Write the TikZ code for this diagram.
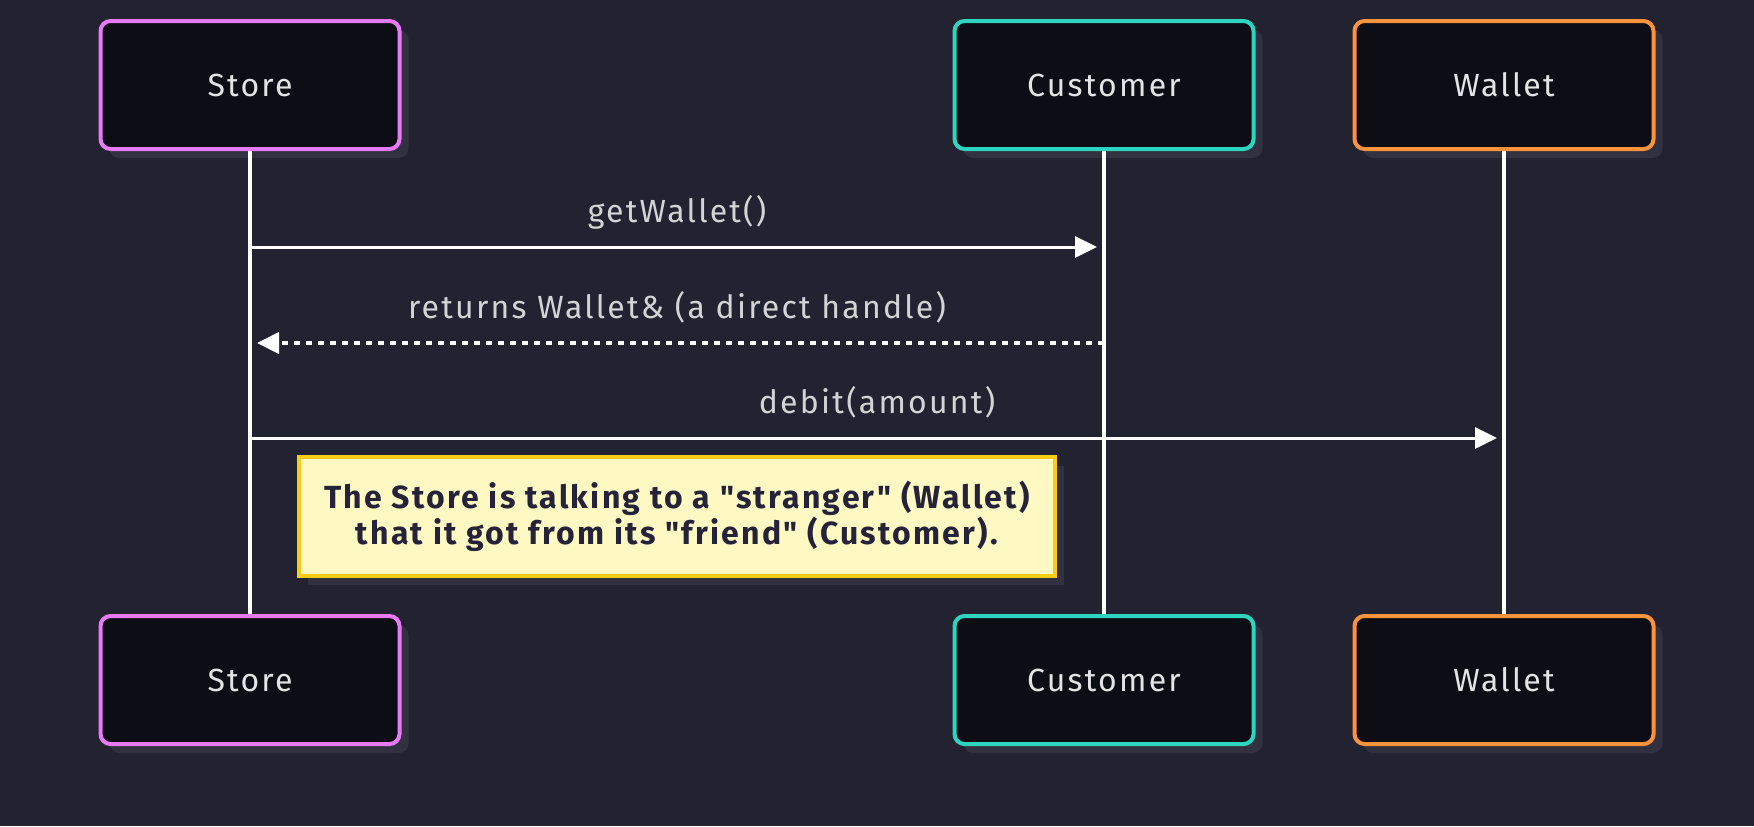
\documentclass[tikz,border=0pt]{standalone}
\usepackage{fontspec}
\setmainfont{Fira Sans}[LetterSpace=7, Ligatures=TeXOff]
\usetikzlibrary{
calc,
positioning,
arrows.meta,
shadows,
}
\definecolor{bgcol}{HTML}{232230}
\definecolor{boxfill}{HTML}{0D0D15}
\definecolor{shadowcol}{HTML}{32313F}
\definecolor{boxtext}{HTML}{E4E4E7}
\definecolor{msgtext}{HTML}{D4D4D8}
\definecolor{storecol}{HTML}{E879F9}
\definecolor{customercol}{HTML}{2DD4BF}
\definecolor{walletcol}{HTML}{FB923C}
\definecolor{notefill}{HTML}{FEF9C3}
\definecolor{noteline}{HTML}{FACC15}
\definecolor{notetext}{HTML}{25233A}
\tikzset{
x=0.5pt, y=-0.5pt,
every node/.style={align=center},
actor/.style={rectangle, rounded corners=5pt, draw, line width=2pt,
  fill=boxfill, text=boxtext, minimum width=149.5pt, minimum height=64pt,
  font=\fontsize{16}{19}\selectfont,
  drop shadow={shadow xshift=4.5pt, shadow yshift=-4.5pt, fill=shadowcol, opacity=1}},
lifeline/.style={draw=white, line width=2pt},
call/.style={draw=white, line width=1.5pt, -{Triangle[length=11pt, width=10.5pt]}, shorten >=3.5pt},
reply/.style={call, line width=2pt, dash pattern=on 3pt off 3pt},
msg/.style={text=msgtext, font=\fontsize{16}{19}\selectfont, anchor=base, yshift=12.5pt},
note/.style={rectangle, draw=noteline, line width=1.75pt, fill=notefill, text=notetext,
  minimum width=378pt, minimum height=59.5pt,
  font=\fontsize{16}{18}\selectfont\bfseries,
  drop shadow={shadow xshift=4.5pt, shadow yshift=-4.5pt, fill=shadowcol, opacity=1}},
}

\begin{document}
\begin{tikzpicture}
    \path[use as bounding box, fill=bgcol] (0,0) rectangle (1754,826);

    % participants, top and bottom
    \node [actor, draw=storecol] (store) at (250,85) {Store};
    \node [actor, draw=customercol] (customer) at (1104,85) {Customer};
    \node [actor, draw=walletcol] (wallet) at (1504,85) {Wallet};
    \node [actor, draw=storecol, below=231.5pt of store] (storeB) {Store};
    \node [actor, draw=customercol, below=231.5pt of customer] (customerB) {Customer};
    \node [actor, draw=walletcol, below=231.5pt of wallet] (walletB) {Wallet};

    \draw [lifeline] (store) -- (storeB);
    \draw [lifeline] (customer) -- (customerB);
    \draw [lifeline] (wallet) -- (walletB);

    % message points on the lifelines
    \coordinate (s1) at ([yshift=-48pt]store.south);
    \coordinate (c1) at ([yshift=-48pt]customer.south);
    \coordinate (s2) at ([yshift=-96pt]store.south);
    \coordinate (c2) at ([yshift=-96pt]customer.south);
    \coordinate (s3) at ([yshift=-143.5pt]store.south);
    \coordinate (c3) at ([yshift=-143.5pt]customer.south);
    \coordinate (w3) at ([yshift=-143.5pt]wallet.south);

    \draw [call] (s1) -- (c1) node [midway, msg] {getWallet()};
    \draw [reply] (c2) -- (s2) node [midway, msg] {returns Wallet\& (a direct handle)};
    \draw [call] (s3) -- (w3) node [midway, msg] {debit(amount)};

    \node [note, yshift=-39.25pt] (remark) at ($(s3)!0.5!(c3)$)
        {The Store is talking to a "stranger" (Wallet)\\that it got from its "friend" (Customer).};
\end{tikzpicture}
\end{document}
